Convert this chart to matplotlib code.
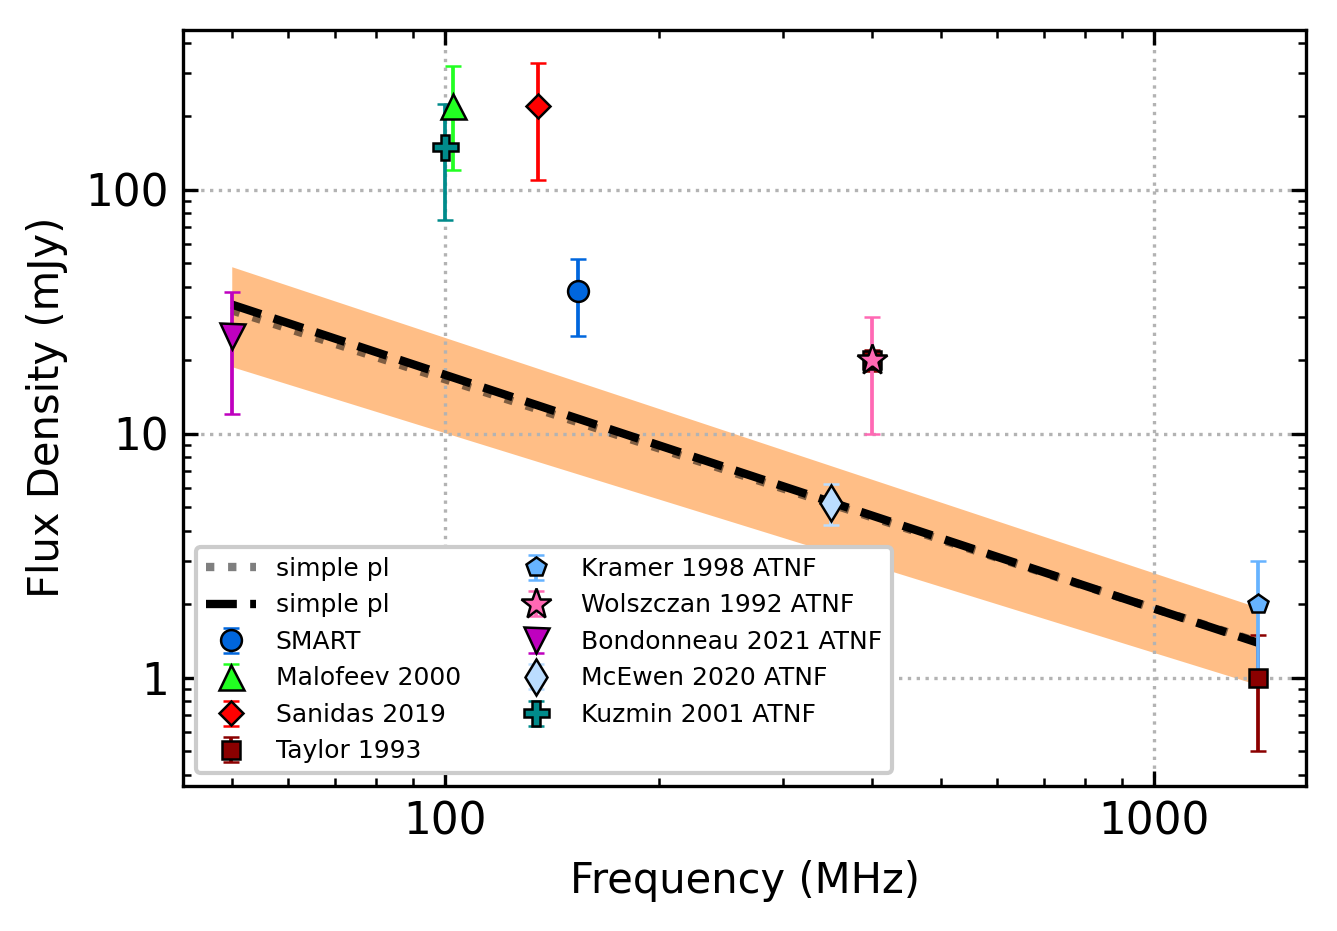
import numpy as np
import matplotlib.pyplot as plt
from matplotlib.ticker import FuncFormatter

# fit lines / band, read at the two ends of the fitted range
fit_freq = [50, 1400]
fit_simple_dotted = [32.0, 1.40]
fit_simple_dashed = [33.8, 1.39]
band_upper = [48.3, 1.94]
band_lower = [18.8, 0.935]

# measurements: freq (MHz), flux (mJy), err (mJy)
smart_freq = [154]
smart_flux = [38.5]
smart_err = [13.5]

malofeev_freq = [102.5]
malofeev_flux = [220]
malofeev_err = [100]

sanidas_freq = [135]
sanidas_flux = [220]
sanidas_err = [110]

taylor_freq = [400, 1400]
taylor_flux = [20, 1.0]
taylor_err = [2, 0.5]

kramer_freq = [1400]
kramer_flux = [2.0]
kramer_err = [1.0]

wolszczan_freq = [400]
wolszczan_flux = [20]
wolszczan_err = [10]

bondonneau_freq = [50]
bondonneau_flux = [25]
bondonneau_err = [13]

mcewen_freq = [350]
mcewen_flux = [5.2]
mcewen_err = [1.0]

kuzmin_freq = [100]
kuzmin_flux = [150]
kuzmin_err = [75]

points = [
    ("SMART", smart_freq, smart_flux, smart_err, "o", "#0066DD"),
    ("Malofeev 2000", malofeev_freq, malofeev_flux, malofeev_err, "^", "#22FF22"),
    ("Sanidas 2019", sanidas_freq, sanidas_flux, sanidas_err, "D", "#FF0000"),
    ("Taylor 1993", taylor_freq, taylor_flux, taylor_err, "s", "#8B0000"),
    ("Kramer 1998 ATNF", kramer_freq, kramer_flux, kramer_err, "p", "#66B3FF"),
    ("Wolszczan 1992 ATNF", wolszczan_freq, wolszczan_flux, wolszczan_err, "*", "#FF69B4"),
    ("Bondonneau 2021 ATNF", bondonneau_freq, bondonneau_flux, bondonneau_err, "v", "#BF00BF"),
    ("McEwen 2020 ATNF", mcewen_freq, mcewen_flux, mcewen_err, "d", "#BBDDFF"),
    ("Kuzmin 2001 ATNF", kuzmin_freq, kuzmin_flux, kuzmin_err, "P", "#008B8B"),
]
sizes = {"o": 5, "^": 6, "D": 4, "s": 4.5, "p": 5, "*": 7.5, "v": 6, "d": 6, "P": 6}

plt.rcParams['font.family'] = 'DejaVu Sans'
fig, ax = plt.subplots(figsize=(1337 / 300, 931 / 300), dpi=300)
fig.subplots_adjust(left=0.137, right=0.977, top=0.968, bottom=0.156)

ax.fill_between(fit_freq, band_lower, band_upper, color="C1", alpha=0.5, lw=0, zorder=1)
ax.plot(fit_freq, fit_simple_dotted, color="black", alpha=0.5, ls=":", lw=2, label="simple pl", zorder=2)
ax.plot(fit_freq, fit_simple_dashed, color="black", ls="--", lw=2, label="simple pl", zorder=3)

for label, fr, fl, er, mk, col in points:
    ax.errorbar(fr, fl, yerr=er, fmt=mk, color=col, ms=sizes[mk], mec="black", mew=0.6,
                elinewidth=0.9, capsize=2, capthick=0.9, label=label, zorder=4)

ax.set_xscale("log")
ax.set_yscale("log")
ax.set_xlim(42.7, 1640)
ax.set_ylim(0.36, 452)

fmt = FuncFormatter(lambda v, p: f"{v:g}")
ax.xaxis.set_major_formatter(fmt)
ax.yaxis.set_major_formatter(fmt)
ax.tick_params(which="both", direction="in", top=True, right=True, labelsize=10.5)
ax.tick_params(which="major", length=3.5)
ax.tick_params(which="minor", length=2)
ax.grid(which="major", ls=":", color="0.7", lw=0.8)

ax.set_xlabel("Frequency (MHz)", fontsize=10)
ax.set_ylabel("Flux Density (mJy)", fontsize=10)

ax.legend(loc="lower left", ncol=2, fontsize=6.0, framealpha=1)

fig.savefig("out.png", dpi=300)
